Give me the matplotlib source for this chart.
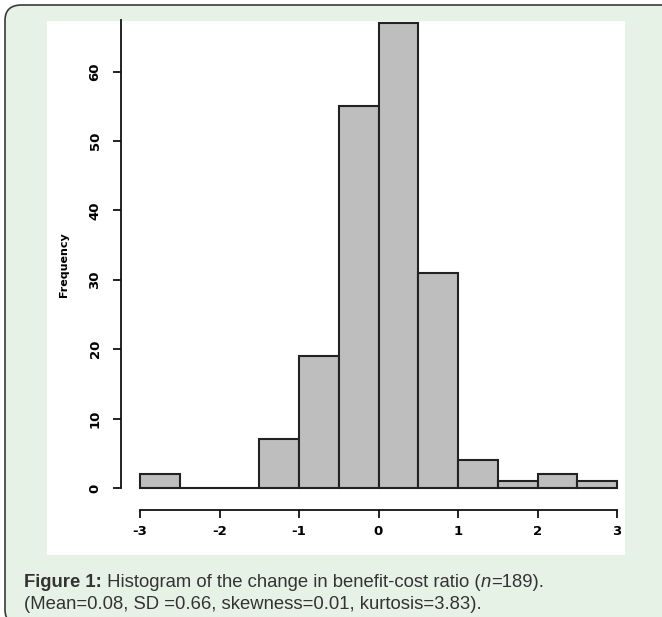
import matplotlib
matplotlib.use("Agg")
import matplotlib.pyplot as plt
from matplotlib.patches import FancyBboxPatch, Rectangle
import numpy as np

# Data
bin_edges = [-3.0, -2.5, -2.0, -1.5, -1.0, -0.5, 0.0, 0.5, 1.0, 1.5, 2.0, 2.5, 3.0]
counts = [2, 0, 0, 7, 19, 55, 67, 31, 4, 1, 2, 1]
x_ticks = [-3, -2, -1, 0, 1, 2, 3]
y_ticks = [0, 10, 20, 30, 40, 50, 60]
caption_bold = "Figure 1:"
caption_line1 = " Histogram of the change in benefit-cost ratio ("
caption_n = "n"
caption_line1_end = "=189)."
caption_line2 = "(Mean=0.08, SD =0.66, skewness=0.01, kurtosis=3.83)."

W, H = 662, 617
fig = plt.figure(figsize=(W / 100, H / 100), dpi=100)
fig.patch.set_facecolor("white")

def fx(px):
    return px / W

def fy(py):
    return 1 - py / H

# green rounded panel
panel = FancyBboxPatch((fx(5), fy(625)), fx(700) - fx(5), fy(5) - fy(625),
                       boxstyle="round,pad=0,rounding_size=0.025",
                       transform=fig.transFigure, facecolor="#e7f2e6",
                       edgecolor="#3a3a3a", linewidth=1.2, zorder=0)
fig.patches.append(panel)
# white image region
fig.patches.append(Rectangle((fx(47), fy(555)), fx(625) - fx(47), fy(21) - fy(555),
                             transform=fig.transFigure, facecolor="white",
                             edgecolor="none", zorder=0.5))

# axes
ax_left, ax_right, ax_top, ax_bottom = 121, 625, 20, 510
ax = fig.add_axes([fx(ax_left), fy(ax_bottom), fx(ax_right) - fx(ax_left),
                   fy(ax_top) - fy(ax_bottom)])
ax.set_zorder(2)
ax.set_facecolor("none")

px_per_x = (617 - 140) / 6.0
px_per_y = (488 - 23) / 67.0
xl = -3 - (140 - ax_left) / px_per_x
xr = 3 + (ax_right - 617) / px_per_x
yb = -(ax_bottom - 488) / px_per_y
yt = (488 - ax_top) / px_per_y
ax.set_xlim(xl, xr)
ax.set_ylim(yb, yt)

widths = np.diff(bin_edges)
ax.bar(bin_edges[:-1], counts, width=widths, align="edge",
       color="#bebebe", edgecolor="#222222", linewidth=1.5, zorder=2)

for s in ["top", "right"]:
    ax.spines[s].set_visible(False)
ax.spines["left"].set_bounds(0, yt)
ax.spines["bottom"].set_bounds(-3, 3)
for s in ["left", "bottom"]:
    ax.spines[s].set_linewidth(1.3)
    ax.spines[s].set_color("#111111")

ax.set_xticks(x_ticks)
ax.set_xticklabels(["-3", "-2", "-1", "0", "1", "2", "3"], fontweight="heavy",
                   fontsize=9.5)
ax.set_yticks(y_ticks)
ax.set_yticklabels([str(v) for v in y_ticks], fontweight="heavy", fontsize=9.5,
                   rotation=90, va="center")
ax.tick_params(axis="both", length=6, width=1.3, color="#111111", pad=5)
ax.tick_params(axis="y", pad=8)

ax.set_ylabel("Frequency", fontweight="heavy", fontsize=8, labelpad=14)

# caption
cap_fs = 13.3
fam = "Liberation Sans"
col = "#333333"
y1, y2 = fy(587), fy(609)
t1 = fig.text(fx(24), y1, caption_bold, fontsize=cap_fs, fontweight="bold",
              color=col, family=fam, va="baseline")
fig.canvas.draw()
r = fig.canvas.get_renderer()
x = t1.get_window_extent(r).x1 / W
t2 = fig.text(x, y1, caption_line1, fontsize=cap_fs, color=col, family=fam, va="baseline")
x = t2.get_window_extent(r).x1 / W
t3 = fig.text(x, y1, caption_n, fontsize=cap_fs, color=col, style="italic",
              family=fam, va="baseline")
x = t3.get_window_extent(r).x1 / W
fig.text(x, y1, caption_line1_end, fontsize=cap_fs, color=col, family=fam, va="baseline")
fig.text(fx(24), y2, caption_line2, fontsize=cap_fs, color=col, family=fam, va="baseline")

fig.savefig("out.png", dpi=100, facecolor=fig.get_facecolor())
